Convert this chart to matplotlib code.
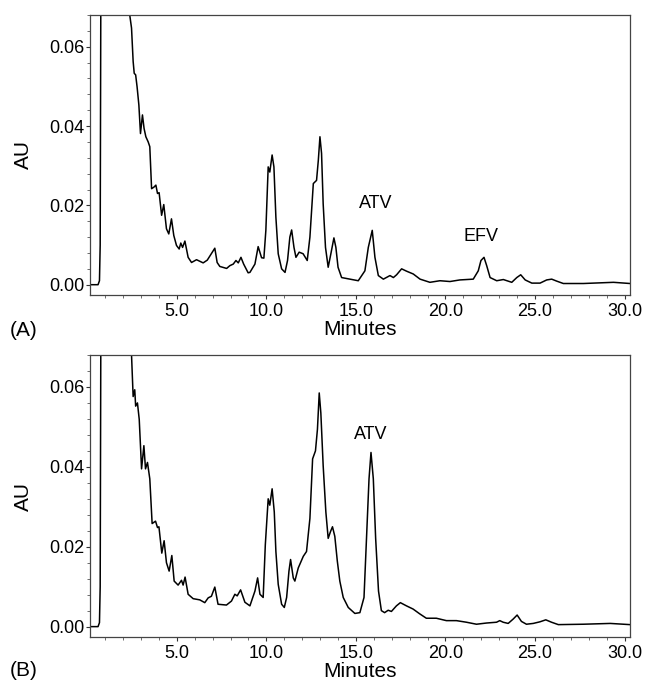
import numpy as np
import matplotlib.pyplot as plt
from matplotlib.ticker import MultipleLocator, FormatStrFormatter

plt.rcParams['font.family'] = ['Liberation Sans', 'DejaVu Sans']

# chromatogram A (time in min, absorbance in AU)
t_a = [0.15, 0.4, 0.6, 0.68, 0.72, 0.76, 0.85, 1.5, 2.1, 2.3, 2.37, 2.47, 2.56, 2.62, 2.7,
       2.78, 2.88, 2.97, 3.08, 3.17, 3.27, 3.4, 3.49, 3.59, 3.72, 3.83, 3.92, 4.01, 4.15,
       4.27, 4.42, 4.55, 4.7, 4.83, 4.98, 5.13, 5.22, 5.32, 5.45, 5.54, 5.63, 5.82, 6.1,
       6.47, 6.7, 6.88, 7.12, 7.25, 7.4, 7.78, 7.96, 8.15, 8.3, 8.43, 8.58, 8.73, 8.98,
       9.08, 9.36, 9.54, 9.73, 9.86, 9.97, 10.1, 10.19, 10.32, 10.42, 10.53, 10.66,
       10.85, 11.04, 11.18, 11.31, 11.41, 11.54, 11.65, 11.83, 12.05, 12.28, 12.43,
       12.62, 12.8, 12.9, 12.99, 13.08, 13.17, 13.3, 13.45, 13.6, 13.77, 13.88, 14.0,
       14.2, 14.66, 15.13, 15.5, 15.69, 15.91, 16.06, 16.25, 16.53, 16.9, 17.09, 17.27,
       17.55, 17.83, 18.2, 18.58, 19.13, 19.69, 20.25, 20.8, 21.55, 21.83, 21.98, 22.15,
       22.3, 22.49, 22.86, 23.23, 23.7, 23.98, 24.2, 24.45, 24.82, 25.28, 25.65, 25.93,
       26.21, 26.58, 27.7, 29.38, 30.3]
au_a = [0.0, 0.0, 0.0, 0.001, 0.01, 0.08, 0.3, 0.4, 0.12, 0.076, 0.068, 0.0647, 0.0563, 0.0533, 0.0529,
        0.0499, 0.0453, 0.0381, 0.0428, 0.0394, 0.0373, 0.0360, 0.0348, 0.0242, 0.0246, 0.0251, 0.0230, 0.0232, 0.0175,
        0.0202, 0.0141, 0.0128, 0.0166, 0.0124, 0.0099, 0.0090, 0.0105, 0.0094, 0.0110, 0.0090, 0.0069, 0.0056, 0.0063,
        0.0055, 0.0062, 0.0075, 0.0092, 0.0056, 0.0046, 0.0041, 0.0048, 0.0052, 0.0061, 0.0055, 0.0069, 0.0052, 0.0030,
        0.0031, 0.0052, 0.0096, 0.0068, 0.0067, 0.0137, 0.0297, 0.0284, 0.0327, 0.0297, 0.0170, 0.0078,
        0.0040, 0.0031, 0.0061, 0.0120, 0.0138, 0.0094, 0.0069, 0.0082, 0.0078, 0.0061, 0.0120,
        0.0255, 0.0263, 0.0314, 0.0373, 0.0331, 0.0204, 0.0094, 0.0044, 0.0078, 0.0118, 0.0094, 0.0044,
        0.0018, 0.0014, 0.0010, 0.0035, 0.0094, 0.0137, 0.0069, 0.0023, 0.0014, 0.0023, 0.0018, 0.0025,
        0.0040, 0.0034, 0.0027, 0.0014, 0.0006, 0.0010, 0.0008, 0.0012, 0.0014, 0.0035, 0.0061, 0.0069,
        0.0048, 0.0018, 0.0010, 0.0013, 0.0006, 0.0018, 0.0025, 0.0012, 0.0004, 0.0004, 0.0012, 0.0014,
        0.0009, 0.0003, 0.0003, 0.0006, 0.0003]

# chromatogram B
t_b = [0.15, 0.4, 0.6, 0.68, 0.72, 0.76, 0.85, 1.5, 2.1, 2.3, 2.47, 2.56, 2.65, 2.7, 2.8,
       2.9, 3.03, 3.16, 3.25, 3.36, 3.49, 3.62, 3.81, 3.92, 4.0, 4.16, 4.29, 4.42,
       4.57, 4.72, 4.85, 5.07, 5.26, 5.35, 5.46, 5.63, 5.91, 6.28, 6.56, 6.75, 6.93,
       7.12, 7.3, 7.77, 8.05, 8.24, 8.37, 8.56, 8.8, 9.08, 9.36, 9.51, 9.64, 9.82,
       9.94, 10.1, 10.19, 10.32, 10.44, 10.53, 10.66, 10.85, 11.0, 11.13, 11.26, 11.35,
       11.5, 11.59, 11.78, 12.06, 12.24, 12.43, 12.58, 12.74, 12.85, 12.95, 13.04, 13.17,
       13.32, 13.45, 13.58, 13.69, 13.82, 13.96, 14.1, 14.29, 14.57, 14.94, 15.22, 15.45,
       15.59, 15.73, 15.84, 15.97, 16.1, 16.26, 16.42, 16.6, 16.8, 16.98, 17.26, 17.48,
       17.82, 18.19, 18.56, 18.93, 19.49, 20.05, 20.61, 21.17, 21.73, 22.29, 22.85, 23.03,
       23.22, 23.5, 23.78, 24.0, 24.24, 24.52, 24.9, 25.27, 25.6, 25.92, 26.3, 27.7,
       29.2, 30.3]
au_b = [0.0, 0.0, 0.0, 0.001, 0.01, 0.08, 0.3, 0.4, 0.12, 0.08, 0.068, 0.0576, 0.0593, 0.0552, 0.0560,
        0.0519, 0.0395, 0.0453, 0.0395, 0.0411, 0.0370, 0.0258, 0.0264, 0.0248, 0.0250, 0.0184, 0.0215, 0.0160,
        0.0139, 0.0178, 0.0114, 0.0104, 0.0116, 0.0104, 0.0124, 0.0081, 0.0070, 0.0067, 0.0060, 0.0072, 0.0076,
        0.0099, 0.0056, 0.0054, 0.0064, 0.0081, 0.0077, 0.0092, 0.0061, 0.0052, 0.0089, 0.0122, 0.0081, 0.0073,
        0.0205, 0.0320, 0.0304, 0.0345, 0.0287, 0.0188, 0.0106, 0.0056, 0.0048, 0.0073, 0.0139, 0.0168,
        0.0122, 0.0114, 0.0147, 0.0176, 0.0188, 0.0271, 0.0420, 0.0440, 0.0494, 0.0585, 0.0535, 0.0403,
        0.0287, 0.0221, 0.0238, 0.0250, 0.0226, 0.0164, 0.0114, 0.0073, 0.0048, 0.0033, 0.0035, 0.0073,
        0.0221, 0.0370, 0.0436, 0.0370, 0.0221, 0.0089, 0.0040, 0.0035, 0.0041, 0.0038, 0.0052, 0.0060,
        0.0052, 0.0044, 0.0032, 0.0021, 0.0021, 0.0015, 0.0015, 0.0011, 0.0006, 0.0009, 0.0011, 0.0015,
        0.0011, 0.0008, 0.0019, 0.0029, 0.0013, 0.0006, 0.0008, 0.0012, 0.0017, 0.0011, 0.0005, 0.0006,
        0.0008, 0.0005]

labels_a = [('ATV', 16.1, 0.0205), ('EFV', 22.0, 0.0122)]
labels_b = [('ATV', 15.8, 0.0482)]

fig = plt.figure(figsize=(6.45, 6.81), dpi=100)
ax1 = fig.add_axes([0.1395, 0.5668, 0.8372, 0.4112])
ax2 = fig.add_axes([0.1395, 0.0646, 0.8372, 0.4141])


def draw(ax, t, au, labels, tag, ty):
    ax.plot(t, au, color='black', lw=1.1, solid_joinstyle='round')
    ax.set_xlim(0.15, 30.3)
    ax.set_ylim(-0.0026, 0.068)
    ax.set_xticks([5, 10, 15, 20, 25, 30])
    ax.xaxis.set_minor_locator(MultipleLocator(1))
    ax.xaxis.set_major_formatter(FormatStrFormatter('%.1f'))
    ax.yaxis.set_major_locator(MultipleLocator(0.02))
    ax.yaxis.set_minor_locator(MultipleLocator(0.004))
    ax.yaxis.set_major_formatter(FormatStrFormatter('%.2f'))
    ax.tick_params(axis='both', which='major', labelsize=13, length=3, width=0.8, color='#333333')
    ax.tick_params(axis='x', which='major', pad=3)
    ax.tick_params(axis='y', which='major', pad=1)
    ax.tick_params(axis='both', which='minor', length=2, width=0.6, color='#555555')
    for s in ax.spines.values():
        s.set_color('#444444')
        s.set_linewidth(0.9)
    ax.set_xlabel('Minutes', fontsize=15)
    ax.set_ylabel('AU', fontsize=15)
    ax.xaxis.set_label_coords(0.5, -0.088)
    ax.yaxis.set_label_coords(-0.105, 0.5)
    for txt, x, y in labels:
        ax.text(x, y, txt, fontsize=13, ha='center', va='center')
    fig.text(0.015, ty, tag, fontsize=15, va='center', ha='left')


draw(ax1, t_a, au_a, labels_a, '(A)', 1 - 330 / 681)
draw(ax2, t_b, au_b, labels_b, '(B)', 1 - 670 / 681)

fig.savefig('out.png', dpi=100)
